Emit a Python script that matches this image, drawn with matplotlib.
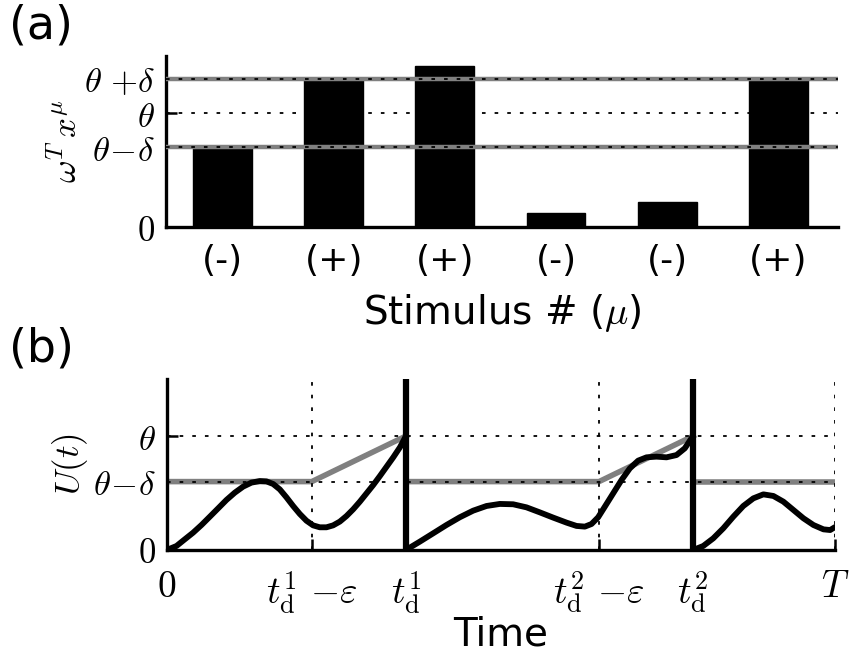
import numpy as np
import matplotlib
matplotlib.use("Agg")
import matplotlib.pyplot as plt

plt.rcParams['mathtext.fontset'] = 'cm'
plt.rcParams['font.family'] = 'DejaVu Sans'

# ---- panel (a) data ----
bar_labels = ['(-)', '(+)', '(+)', '(-)', '(-)', '(+)']
bar_values = [0.70, 1.30, 1.41, 0.12, 0.22, 1.30]
theta = 1.0
delta_a = 0.3

# ---- panel (b) data ----
T = 10.0
t_d1 = 3.58
t_d2 = 7.88
eps = 1.41
delta_b = 0.4

seg1_t = [0.0, 0.145, 0.27, 0.394, 0.519, 0.644, 0.768, 0.893, 1.018, 1.143, 1.267, 1.392,
          1.492, 1.592, 1.691, 1.791, 1.891, 1.991, 2.09, 2.19, 2.29, 2.39, 2.49, 2.59,
          2.69, 2.79, 2.89, 2.99, 3.09, 3.19, 3.29, 3.39, 3.49, 3.58]
seg1_u = [0.0, 0.035, 0.094, 0.152, 0.219, 0.292, 0.365, 0.439, 0.503, 0.556, 0.591, 0.605,
          0.602, 0.579, 0.532, 0.462, 0.386, 0.316, 0.257, 0.216, 0.199, 0.199, 0.216, 0.249,
          0.298, 0.357, 0.424, 0.497, 0.570, 0.649, 0.731, 0.813, 0.901, 1.0]
seg2_t = [3.58, 3.787, 3.987, 4.186, 4.386, 4.586, 4.786, 4.985, 5.185, 5.385, 5.584, 5.784,
          5.984, 6.133, 6.258, 6.358, 6.457, 6.557, 6.682, 6.807, 6.931, 7.056, 7.181, 7.33,
          7.48, 7.63, 7.754, 7.854, 7.88]
seg2_u = [0.0, 0.073, 0.146, 0.219, 0.287, 0.345, 0.386, 0.404, 0.401, 0.374, 0.330, 0.284,
          0.240, 0.211, 0.205, 0.228, 0.287, 0.380, 0.497, 0.614, 0.716, 0.784, 0.813, 0.819,
          0.813, 0.833, 0.892, 0.980, 1.0]
seg3_t = [7.88, 8.03, 8.18, 8.33, 8.48, 8.63, 8.78, 8.93, 9.08, 9.23, 9.38, 9.53, 9.68, 9.83,
          9.93, 10.0]
seg3_u = [0.0, 0.035, 0.102, 0.190, 0.292, 0.386, 0.453, 0.488, 0.474, 0.424, 0.351, 0.278,
          0.219, 0.181, 0.175, 0.20]

fig = plt.figure(figsize=(8.51, 6.6), dpi=100)
ax1 = fig.add_axes([0.195, 0.656, 0.790, 0.259])
ax2 = fig.add_axes([0.196, 0.1667, 0.785, 0.259])

dot = dict(color='black', lw=1.3, dashes=(2, 5))
grey = '#808080'

for ax in (ax1, ax2):
    for s in ('top', 'right'):
        ax.spines[s].set_visible(False)
    for s in ('left', 'bottom'):
        ax.spines[s].set_linewidth(2.4)
    ax.tick_params(direction='in', length=8, width=1.8, labelsize=25, pad=8)

# ---- (a) ----
x = np.arange(len(bar_values))
ax1.bar(x, bar_values, width=0.53, color='black', edgecolor='black', zorder=2)
for yv in (theta - delta_a, theta + delta_a):
    ax1.axhline(yv, color=grey, lw=3.2, zorder=3)
    ax1.axhline(yv, zorder=4, **dot)
ax1.axhline(theta, zorder=4, **dot)
ax1.set_xlim(-0.51, 5.54)
ax1.set_ylim(0, 1.5)
ax1.set_yticks([0, theta - delta_a, theta, theta + delta_a])
ax1.set_yticklabels(['$0$', r'$\theta\!-\!\delta$', r'$\theta$', r'$\theta\ {+}\delta$'])
ax1.set_xticks(x)
ax1.set_xticklabels(bar_labels, fontsize=26)
ax1.tick_params(axis='x', length=0, pad=12)
ax1.set_ylabel(r'$\omega^T\, x^\mu$', fontsize=25, labelpad=0)
ax1.set_xlabel(r'Stimulus # ($\mu$)', fontsize=28, labelpad=10)

# ---- (b) ----
ax2.plot([0, t_d1 - eps, t_d1], [theta - delta_b, theta - delta_b, theta], color=grey, lw=4, zorder=2)
ax2.plot([t_d1, t_d2 - eps, t_d2], [theta - delta_b, theta - delta_b, theta], color=grey, lw=4, zorder=2)
ax2.plot([t_d2, T], [theta - delta_b, theta - delta_b], color=grey, lw=4, zorder=2)
for yv in (theta - delta_b, theta):
    ax2.axhline(yv, zorder=3, **dot)
for xv in (t_d1 - eps, t_d2 - eps, T):
    ax2.axvline(xv, zorder=3, **dot)
for tt, uu in ((seg1_t, seg1_u), (seg2_t, seg2_u), (seg3_t, seg3_u)):
    ax2.plot(tt, uu, color='black', lw=4.2, solid_joinstyle='round', solid_capstyle='round', zorder=4)
for xv in (t_d1, t_d2):
    ax2.axvline(xv, color='black', lw=4.5, zorder=5)
ax2.set_xlim(0, T)
ax2.set_ylim(0, 1.5)
ax2.set_yticks([0, theta - delta_b, theta])
ax2.set_yticklabels(['$0$', r'$\theta\!-\!\delta$', r'$\theta$'])
ax2.set_xticks([0, t_d1 - eps, t_d1, t_d2 - eps, t_d2, T])
ax2.set_xticklabels(['$0$', r'$t_{\rm d}^1\ {-}\varepsilon$', r'$t_{\rm d}^1$',
                     r'$t_{\rm d}^2\ {-}\varepsilon$', r'$t_{\rm d}^2$', '$T$'])
ax2.tick_params(axis='x', pad=14, labelsize=27)
ax2.set_ylabel(r'$U(t)$', fontsize=25, labelpad=2)
ax2.set_xlabel('Time', fontsize=28, labelpad=0)

fig.text(0.01, 0.995, '(a)', fontsize=33, va='top', ha='left')
fig.text(0.01, 0.505, '(b)', fontsize=33, va='top', ha='left')

fig.savefig('out.png', dpi=100)
